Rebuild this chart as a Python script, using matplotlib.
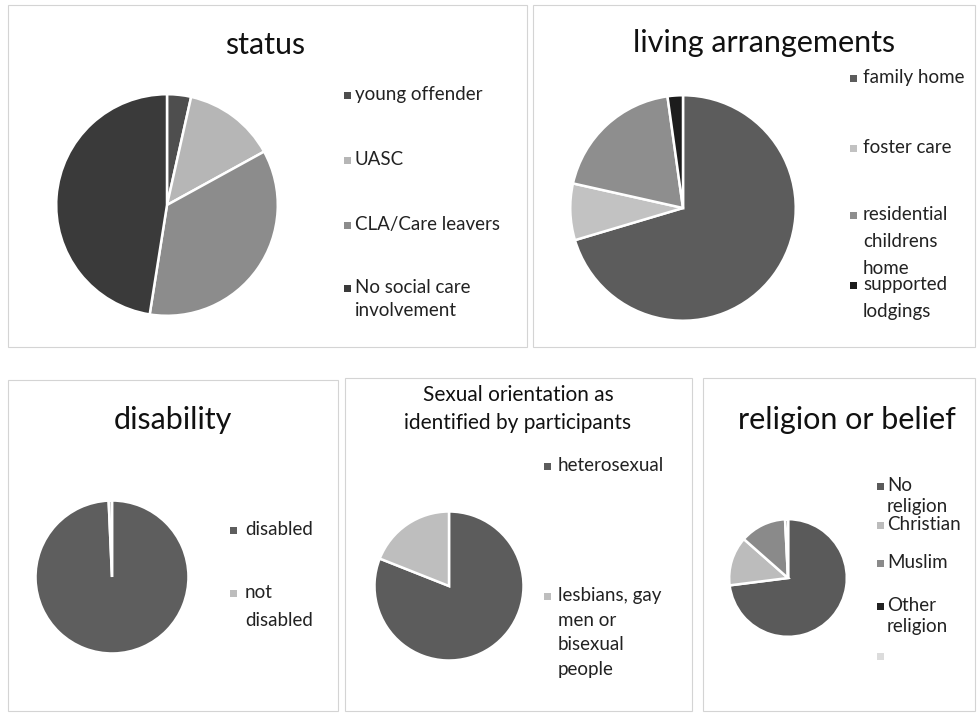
import matplotlib.pyplot as plt
from matplotlib.patches import Rectangle

plt.rcParams['font.family'] = ['Lato', 'DejaVu Sans']

W, H = 977, 714

# data (percent)
status_labels = ['young offender', 'UASC', 'CLA/Care leavers', 'No social care\ninvolvement']
status_values = [3.5, 13.5, 35.5, 47.5]
status_colors = ['#4e4e4e', '#b6b6b6', '#8c8c8c', '#3a3a3a']

living_labels = ['family home', 'foster care', 'residential\nchildrens\nhome', 'supported\nlodgings']
living_values = [70.4, 8.1, 19.3, 2.2]
living_colors = ['#5c5c5c', '#c2c2c2', '#8e8e8e', '#1c1c1c']

disab_labels = ['disabled', 'not\ndisabled']
disab_values = [99.3, 0.7]
disab_colors = ['#5e5e5e', '#bdbdbd']

sexual_labels = ['heterosexual', 'lesbians, gay\nmen or\nbisexual\npeople']
sexual_values = [81, 19]
sexual_colors = ['#5c5c5c', '#bebebe']

relig_labels = ['No\nreligion', 'Christian', 'Muslim', 'Other\nreligion', '']
relig_values = [73, 13.5, 12.7, 0.8, 0]
relig_colors = ['#5a5a5a', '#bcbcbc', '#8a8a8a', '#222222', '#dcdcdc']


def fx(x):
    return x / W


def fy(y):
    return 1 - y / H


fig = plt.figure(figsize=(9.77, 7.14), dpi=100)
fig.patch.set_facecolor('white')

# panel frames
for x0, y0, x1, y1 in [(8, 5, 527, 347), (533, 5, 975, 347), (8, 380, 338, 711),
                       (345, 378, 692, 711), (703, 378, 975, 711)]:
    fig.add_artist(Rectangle((fx(x0), fy(y1)), fx(x1 - x0), (y1 - y0) / H,
                             fill=False, edgecolor='#d4d4d4', lw=0.8))


def pie(cx, cy, r, values, colors):
    ax = fig.add_axes([fx(cx - r), fy(cy + r), 2 * r / W, 2 * r / H])
    ax.pie(values, colors=colors, startangle=90, counterclock=False,
           wedgeprops=dict(edgecolor='white', linewidth=1.8))
    ax.set_xlim(-1.02, 1.02)
    ax.set_ylim(-1.02, 1.02)
    ax.set_aspect('equal')
    return ax


def legend(mx, tx, ys, labels, colors, size=13.5, spacing=1.4):
    for y, lab, c in zip(ys, labels, colors):
        fig.add_artist(Rectangle((fx(mx - 3.5), fy(y + 1.5)), 7 / W, 7 / H,
                                 facecolor=c, edgecolor='none'))
        fig.text(fx(tx), fy(y - 11), lab, fontsize=size, color='#222222',
                 va='top', ha='left', linespacing=spacing)


pie(167, 205, 113, status_values, status_colors)
fig.text(fx(265), fy(45), 'status', fontsize=22, ha='center', va='center', color='#111111')
legend(347, 355, [97, 162, 227, 290], status_labels, status_colors, spacing=1.4)

pie(683, 208, 115, living_values, living_colors)
fig.text(fx(764), fy(43), 'living arrangements', fontsize=22, ha='center', va='center', color='#111111')
legend(853, 863, [80, 150, 217, 287], living_labels, living_colors, spacing=1.7)

pie(112, 577, 78, disab_values, disab_colors)
fig.text(fx(173), fy(420), 'disability', fontsize=22, ha='center', va='center', color='#111111')
legend(233, 245, [532, 595], disab_labels, disab_colors, spacing=1.8)

pie(449, 586, 76, sexual_values, sexual_colors)
fig.text(fx(518), fy(409), 'Sexual orientation as\nidentified by participants', fontsize=15,
         ha='center', va='center', color='#111111', linespacing=1.45)
legend(547, 558, [468, 598], sexual_labels, sexual_colors, spacing=1.55)

pie(788, 578, 60, relig_values, relig_colors)
fig.text(fx(847), fy(420), 'religion or belief', fontsize=22, ha='center', va='center', color='#111111')
legend(880, 887, [488, 527, 565, 608, 658], relig_labels, relig_colors, spacing=1.3)

fig.savefig('out.png', dpi=100, facecolor='white')
